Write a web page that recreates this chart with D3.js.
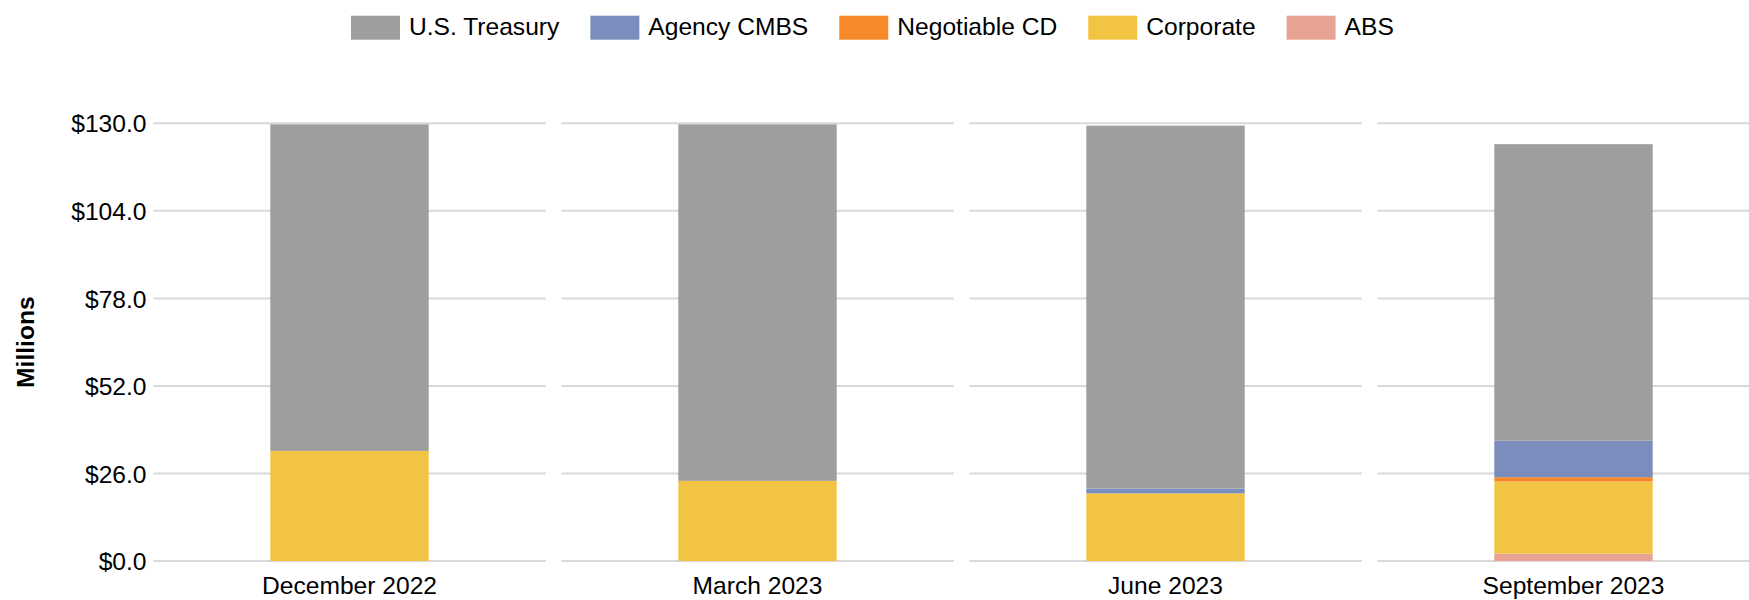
<!DOCTYPE html>
<html>
<head>
<meta charset="utf-8">
<script src="https://cdn.jsdelivr.net/npm/d3@7"></script>
<style>
    body { margin: 0; background: #fff; overflow: hidden; }
    svg { display: block; font-family: "Liberation Sans", Arial, sans-serif; }
</style>
</head>
<body>
<div id="chart"></div>
<script>
const categories = ["December 2022", "March 2023", "June 2023", "September 2023"];

// values in $ millions, one entry per category
const treasury = [97.0, 105.9, 107.8, 88.1];
const agencyCmbs = [0, 0, 1.4, 10.8];
const negotiableCd = [0, 0, 0, 1.3];
const corporate = [32.7, 23.8, 20.1, 21.4];
const abs = [0, 0, 0, 2.2];

const yTicks = [0, 26, 52, 78, 104, 130];

// stacking order, bottom to top
const seriesNames = ["ABS", "Corporate", "Negotiable CD", "Agency CMBS", "U.S. Treasury"];
const seriesValues = [abs, corporate, negotiableCd, agencyCmbs, treasury];
const legendOrder = ["U.S. Treasury", "Agency CMBS", "Negotiable CD", "Corporate", "ABS"];

const colors = {
    "U.S. Treasury": "#9e9e9e",
    "Agency CMBS": "#7b8dbc",
    "Negotiable CD": "#f68a2a",
    "Corporate": "#f2c444",
    "ABS": "#e8a394"
};

const width = 1749, height = 600;
const margin = { top: 123.3, left: 145.5, bottom: 39 };
const fontSize = "24.6px";

const svg = d3.select("#chart")
    .append("svg")
    .attr("width", width)
    .attr("height", height);

const table = categories.map((c, i) => {
    const row = { category: c };
    seriesNames.forEach((s, j) => { row[s] = seriesValues[j][i]; });
    return row;
});

const stacked = d3.stack().keys(seriesNames)(table);

// plot runs past the right edge, like the original
const xRange = [margin.left, margin.left + 1632];

const xGrid = d3.scaleBand()
    .domain(categories)
    .range(xRange)
    .paddingInner(0.03824)
    .paddingOuter(0.01912);

const x = d3.scaleBand()
    .domain(categories)
    .range(xRange)
    .paddingInner(0.6118)
    .paddingOuter(0.3059);

const y = d3.scaleLinear()
    .domain([0, 130])
    .range([height - margin.bottom, margin.top]);

// gridlines, one segment per category
const grid = svg.append("g");
categories.forEach(c => {
    grid.selectAll(null)
        .data(yTicks)
        .enter().append("line")
        .attr("x1", xGrid(c))
        .attr("x2", xGrid(c) + xGrid.bandwidth())
        .attr("y1", d => y(d))
        .attr("y2", d => y(d))
        .attr("stroke", "#d9d9d9")
        .attr("stroke-width", 2);
});

// y axis labels
const yAxis = svg.append("g")
    .attr("transform", `translate(${margin.left + 1},0)`)
    .call(d3.axisLeft(y).tickValues(yTicks).tickSize(0).tickPadding(0)
        .tickFormat(d => "$" + d.toFixed(1)));
yAxis.select(".domain").remove();
yAxis.selectAll("text")
    .attr("dy", "0.35em")
    .style("font-size", fontSize)
    .style("font-family", "Liberation Sans, Arial, sans-serif")
    .attr("fill", "#000");

svg.append("text")
    .attr("transform", `translate(34, ${(y(0) + y(130)) / 2}) rotate(-90)`)
    .attr("text-anchor", "middle")
    .style("font-size", fontSize)
    .style("font-weight", "bold")
    .attr("fill", "#000")
    .text("Millions");

// bars
svg.append("g")
    .selectAll("g")
    .data(stacked)
    .enter().append("g")
    .attr("fill", d => colors[d.key])
    .selectAll("rect")
    .data(d => d)
    .enter().append("rect")
    .attr("x", d => x(d.data.category))
    .attr("width", x.bandwidth())
    .attr("y", d => y(d[1]))
    .attr("height", d => y(d[0]) - y(d[1]));

// x labels
const xAxis = svg.append("g")
    .attr("transform", `translate(0,${y(0)})`)
    .call(d3.axisBottom(x).tickSize(0).tickPadding(0));
xAxis.select(".domain").remove();
xAxis.selectAll("text")
    .attr("y", 33)
    .attr("dy", 0)
    .style("font-size", fontSize)
    .style("font-family", "Liberation Sans, Arial, sans-serif")
    .attr("fill", "#000");

// legend
const legend = svg.append("g");
let cursor = 0;
legendOrder.forEach(name => {
    const item = legend.append("g").attr("transform", `translate(${cursor},0)`);
    item.append("rect")
        .attr("x", 0)
        .attr("y", 15.7)
        .attr("width", 49)
        .attr("height", 24)
        .attr("fill", colors[name]);
    const t = item.append("text")
        .attr("x", 58)
        .attr("y", 34.5)
        .style("font-size", fontSize)
        .attr("fill", "#000")
        .text(name);
    cursor += 58 + t.node().getComputedTextLength() + 31;
});
const legendWidth = cursor - 31;
legend.attr("transform", `translate(${351},0)`);
</script>
</body>
</html>
